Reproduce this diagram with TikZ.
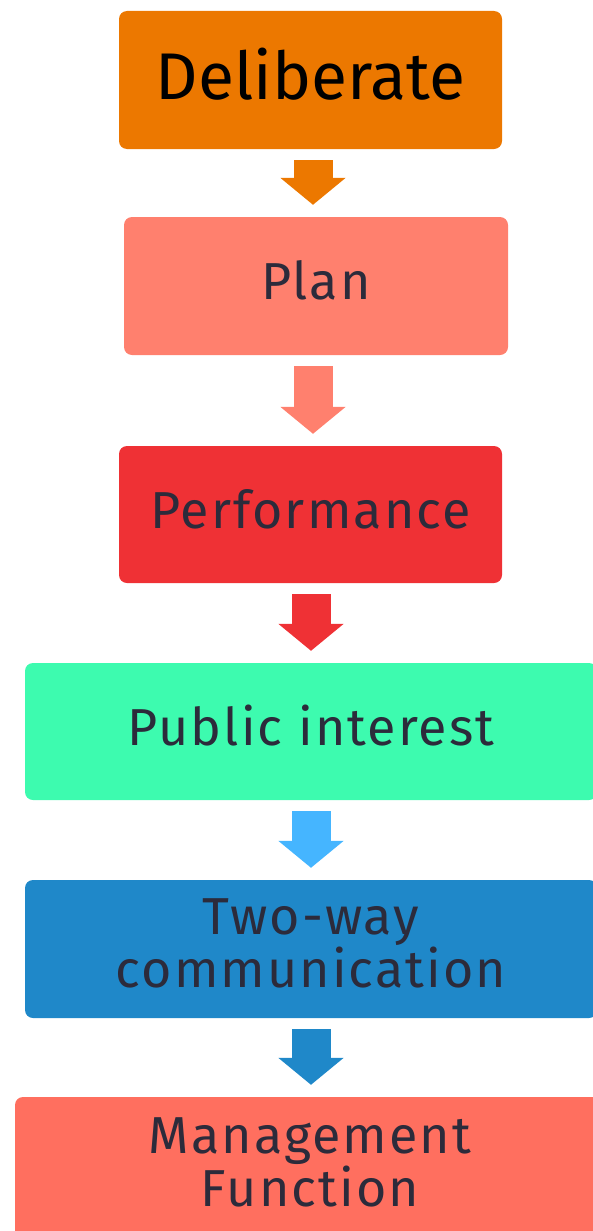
\documentclass[tikz,border=0pt]{standalone}
\usepackage{fontspec}
\setmainfont{Fira Sans}
\newfontfamily\thinfont{Fira Sans}[LetterSpace=4]
\usetikzlibrary{arrows.meta, calc}

\definecolor{delibcol}{HTML}{EC7800}
\definecolor{plancol}{HTML}{FF806E}
\definecolor{perfcol}{HTML}{EF3135}
\definecolor{publiccol}{HTML}{3DFBAF}
\definecolor{skycol}{HTML}{45B5FF}
\definecolor{twowaycol}{HTML}{1F88C9}
\definecolor{mgmtcol}{HTML}{FF6F5F}
\definecolor{ink}{HTML}{2C2B3B}

\tikzset{
    stage/.style={rounded corners=8pt, inner sep=0pt, text=ink, align=center,
        text depth=12pt, font=\thinfont\fontsize{52}{46}\selectfont},
    flow/.style={line width=39pt, -{Triangle[width=64pt, length=27pt]},
        shorten <=11pt, shorten >=12pt}
}

\begin{document}
\begin{tikzpicture}[x=1pt, y=-1pt]
    \useasboundingbox (0,0) rectangle (593,1231);
    \clip (0,0) rectangle (593,1231);

    \node[stage, fill=delibcol, text=black, minimum width=383pt, minimum height=138pt,
        font=\fontsize{66}{60}\selectfont] (deliberate) at (310.5,80) {Deliberate};
    \node[stage, fill=plancol, minimum width=384pt, minimum height=138pt] (plan) at (316,286) {Plan};
    \node[stage, fill=perfcol, minimum width=383pt, minimum height=137pt] (perf) at (310.5,514.5) {Performance};
    \node[stage, fill=publiccol, minimum width=572pt, minimum height=137pt] (public) at (311,731.5) {Public interest};
    \node[stage, fill=twowaycol, minimum width=572pt, minimum height=138pt] (twoway) at (311,949)
        {Two-way\\communication};
    \node[stage, fill=mgmtcol, minimum width=590pt, minimum height=142pt] (mgmt) at (310,1168)
        {Management\\Function};

    \draw[flow, delibcol] (313,0 |- deliberate.south) -- (313,0 |- plan.north);
    \draw[flow, plancol] (313,0 |- plan.south) -- (313,0 |- perf.north);
    \draw[flow, perfcol] (311,0 |- perf.south) -- (311,0 |- public.north);
    \draw[flow, skycol] (311,0 |- public.south) -- (311,0 |- twoway.north);
    \draw[flow, twowaycol] (311,0 |- twoway.south) -- (311,0 |- mgmt.north);
\end{tikzpicture}
\end{document}
